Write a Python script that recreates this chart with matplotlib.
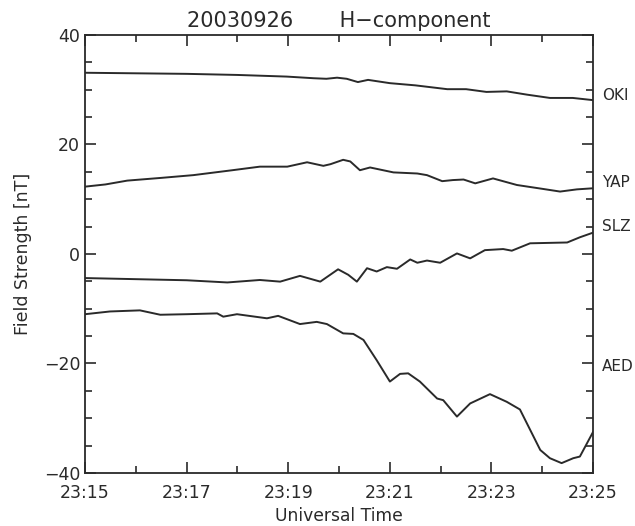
import matplotlib
matplotlib.use("Agg")
import matplotlib.pyplot as plt
from matplotlib.ticker import MultipleLocator

# Time in minutes after 23:15 UT, H-component field strength in nT
oki_t = [0.0, 1.0, 2.0, 3.0, 3.97, 4.5, 4.75, 4.96, 5.15, 5.37, 5.57, 6.0, 6.5, 7.13, 7.5, 7.9, 8.3, 8.7, 9.15, 9.6, 10.0]
oki_v = [33.1, 33.0, 32.9, 32.7, 32.4, 32.1, 32.0, 32.2, 32.0, 31.4, 31.8, 31.2, 30.8, 30.1, 30.1, 29.6, 29.7, 29.1, 28.5, 28.5, 28.1]

yap_t = [0.0, 0.4, 0.83, 1.5, 2.13, 2.9, 3.44, 3.98, 4.37, 4.69, 4.83, 5.08, 5.22, 5.41, 5.61, 6.07, 6.54, 6.73, 7.03, 7.24, 7.45, 7.68, 8.03, 8.5, 9.0, 9.35, 9.68, 10.0]
yap_v = [12.3, 12.7, 13.4, 13.9, 14.4, 15.3, 15.95, 15.95, 16.75, 16.1, 16.4, 17.2, 16.9, 15.3, 15.8, 14.9, 14.7, 14.4, 13.3, 13.5, 13.6, 12.9, 13.8, 12.6, 11.9, 11.4, 11.8, 12.0]

slz_t = [0.0, 1.0, 2.0, 2.8, 3.44, 3.84, 4.23, 4.63, 4.98, 5.18, 5.35, 5.55, 5.74, 5.94, 6.14, 6.4, 6.54, 6.73, 6.99, 7.32, 7.58, 7.87, 8.23, 8.4, 8.76, 9.49, 9.74, 10.0]
slz_v = [-4.4, -4.6, -4.8, -5.2, -4.75, -5.05, -4.0, -5.05, -2.8, -3.8, -5.05, -2.6, -3.2, -2.4, -2.7, -1.0, -1.6, -1.2, -1.6, 0.1, -0.8, 0.7, 0.9, 0.6, 1.95, 2.1, 3.05, 3.9]

aed_t = [0.0, 0.49, 1.08, 1.48, 2.0, 2.6, 2.72, 2.99, 3.58, 3.8, 4.23, 4.56, 4.76, 5.08, 5.28, 5.48, 5.74, 6.0, 6.2, 6.36, 6.59, 6.93, 7.05, 7.32, 7.58, 7.97, 8.3, 8.56, 8.96, 9.15, 9.38, 9.61, 9.74, 10.0]
aed_v = [-11.0, -10.5, -10.3, -11.1, -11.0, -10.85, -11.45, -11.0, -11.75, -11.3, -12.8, -12.4, -12.8, -14.5, -14.6, -15.7, -19.4, -23.3, -21.9, -21.8, -23.3, -26.4, -26.7, -29.7, -27.3, -25.6, -27.0, -28.4, -35.8, -37.3, -38.2, -37.3, -37.0, -32.5]

stations = ["OKI", "YAP", "SLZ", "AED"]
label_levels = [29.0, 13.0, 5.0, -20.5]

tick_minutes = [0, 2, 4, 6, 8, 10]
tick_labels = ["23:15", "23:17", "23:19", "23:21", "23:23", "23:25"]

ink = "#2a2a2a"
plt.rcParams["font.family"] = ["DejaVu Sans"]

fig = plt.figure(figsize=(6.35, 5.26), dpi=100)
ax = fig.add_axes([0.134, 0.1008, 0.8, 0.8327])

for t, v in [(oki_t, oki_v), (yap_t, yap_v), (slz_t, slz_v), (aed_t, aed_v)]:
    ax.plot(t, v, color=ink, lw=1.4, solid_joinstyle="round")

ax.set_xlim(0, 10)
ax.set_ylim(-40, 40)
ax.set_xticks(tick_minutes)
ax.set_xticklabels(tick_labels)
ax.xaxis.set_minor_locator(MultipleLocator(1))
ax.yaxis.set_major_locator(MultipleLocator(20))
ax.yaxis.set_minor_locator(MultipleLocator(5))
ax.tick_params(which="both", direction="in", top=True, right=True,
               colors=ink, labelsize=12.5, width=1.2)
ax.tick_params(which="major", length=8)
ax.tick_params(which="minor", length=5)
ax.tick_params(axis="x", which="major", pad=8)
ax.tick_params(axis="y", which="major", pad=3.5)
for s in ax.spines.values():
    s.set_color(ink)
    s.set_linewidth(1.3)

for name, lvl in zip(stations, label_levels):
    ax.text(1.018, lvl, name, transform=ax.get_yaxis_transform(),
            ha="left", va="center", fontsize=11, color=ink)

ax.set_title("20030926       H\u2212component", fontsize=15, color=ink, pad=6)
ax.set_xlabel("Universal Time", fontsize=12.3, color=ink, labelpad=3.5)
ax.set_ylabel("Field Strength [nT]", fontsize=12.5, color=ink, labelpad=8.5)

fig.savefig("out.png", dpi=100)
